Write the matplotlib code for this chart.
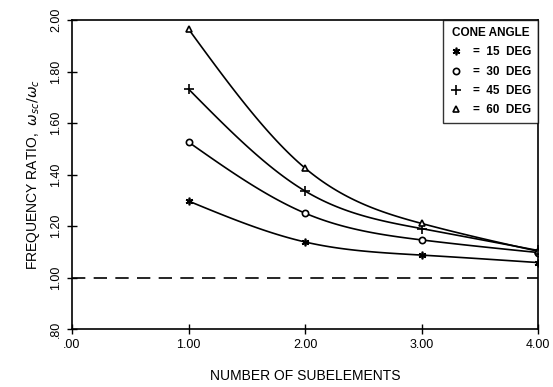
import numpy as np
import matplotlib.pyplot as plt
from matplotlib.lines import Line2D

plt.rcParams['font.family'] = ['Liberation Sans', 'DejaVu Sans']

# data
subelements = [1, 2, 3, 4]
cone_angles = ["15", "30", "45", "60"]
ratio_15 = [1.297, 1.138, 1.087, 1.058]
ratio_30 = [1.526, 1.250, 1.146, 1.097]
ratio_45 = [1.732, 1.336, 1.190, 1.105]
ratio_60 = [1.965, 1.425, 1.210, 1.102]
x_ticks = [0, 1, 2, 3, 4]
x_tick_labels = [".00", "1.00", "2.00", "3.00", "4.00"]
y_ticks = [0.8, 1.0, 1.2, 1.4, 1.6, 1.8, 2.0]
y_tick_labels = [".80", "1.00", "1.20", "1.40", "1.60", "1.80", "2.00"]

series = [ratio_15, ratio_30, ratio_45, ratio_60]
markers = [(6, 2, 0), "o", "+", "^"]
msizes = [5.5, 4.5, 7, 5]


def natural_spline(x, y, n=100):
    # smooth curve through the measured points (drawing only)
    x = np.asarray(x, float)
    y = np.asarray(y, float)
    k = len(x)
    h = np.diff(x)
    A = np.zeros((k, k))
    b = np.zeros(k)
    A[0, 0] = A[-1, -1] = 1
    for i in range(1, k - 1):
        A[i, i - 1] = h[i - 1]
        A[i, i] = 2 * (h[i - 1] + h[i])
        A[i, i + 1] = h[i]
        b[i] = 3 * ((y[i + 1] - y[i]) / h[i] - (y[i] - y[i - 1]) / h[i - 1])
    c = np.linalg.solve(A, b)
    xs = np.linspace(x[0], x[-1], n)
    idx = np.clip(np.searchsorted(x, xs) - 1, 0, k - 2)
    dx = xs - x[idx]
    bb = (y[idx + 1] - y[idx]) / h[idx] - h[idx] * (2 * c[idx] + c[idx + 1]) / 3
    dd = (c[idx + 1] - c[idx]) / (3 * h[idx])
    ys = y[idx] + bb * dx + c[idx] * dx ** 2 + dd * dx ** 3
    return xs, ys


fig = plt.figure(figsize=(5.53, 3.87), dpi=100)
ax = fig.add_axes([72 / 553, 58 / 387, 466 / 553, 309 / 387])

for vals, m, ms in zip(series, markers, msizes):
    xs, ys = natural_spline(subelements, vals)
    ax.plot(xs, ys, color="black", lw=1.2)
    ax.plot(subelements, vals, linestyle="none", marker=m, ms=ms,
            mfc="white" if m in ("o", "^") else "black", mec="black", mew=1.2)

ax.axhline(1.0, color="black", lw=1.2, ls=(0, (8, 5)))

ax.set_xlim(0, 4)
ax.set_ylim(0.8, 2.0)
ax.set_xticks(x_ticks)
ax.set_xticklabels(x_tick_labels)
ax.set_yticks(y_ticks)
ax.set_yticklabels(y_tick_labels, rotation=90, va="center")
ax.tick_params(direction="inout", length=7, width=1, labelsize=9, top=False, right=False)
for s in ax.spines.values():
    s.set_linewidth(1.2)

ax.set_xlabel("NUMBER OF SUBELEMENTS", fontsize=10, labelpad=13)
ax.set_ylabel(r"FREQUENCY RATIO,  $\omega_{sc}/\omega_c$", fontsize=10, labelpad=6)

handles = [Line2D([], [], linestyle="none", marker=m, ms=ms, color="black",
                  mfc="white" if m in ("o", "^") else "black", mew=1.2)
           for m, ms in zip(markers, msizes)]
labels = ["=  %s  DEG" % a for a in cone_angles]
leg = ax.legend(handles, labels, title="CONE ANGLE", loc="upper right",
                borderaxespad=0, fancybox=False, edgecolor="black", fontsize=8.5,
                title_fontsize=8.5, handlelength=1.0, handletextpad=0.9,
                labelspacing=0.62, borderpad=0.6)
leg.get_frame().set_linewidth(1.0)
leg.get_title().set_weight("bold")
for t in leg.get_texts():
    t.set_weight("bold")

fig.savefig("out.png", dpi=100)
